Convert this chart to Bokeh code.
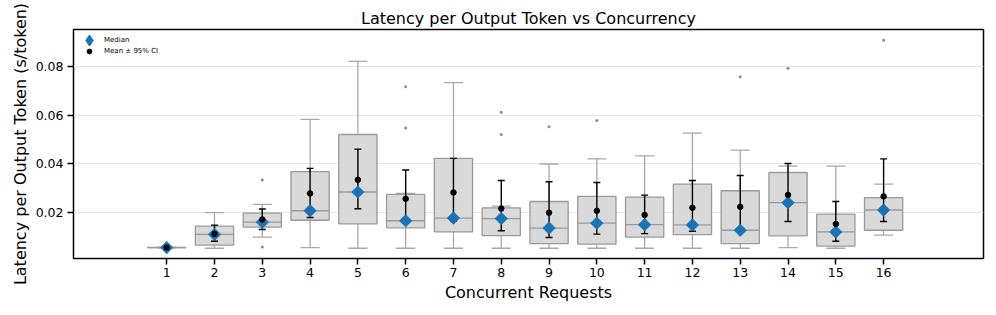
import numpy as np
from bokeh.plotting import figure
from bokeh.models import (ColumnDataSource, Range1d, FixedTicker, Legend, LegendItem)
from bokeh.embed import file_html
from bokeh.resources import INLINE

concurrency = list(range(1, 17))
q1 =      [0.0056, 0.0066, 0.0140, 0.0168, 0.0153, 0.0137, 0.0120, 0.0105, 0.0072, 0.0070, 0.0099, 0.0109, 0.0072, 0.0104, 0.0062, 0.0127]
median =  [0.0056, 0.0110, 0.0160, 0.0207, 0.0284, 0.0166, 0.0177, 0.0175, 0.0136, 0.0156, 0.0150, 0.0149, 0.0127, 0.0240, 0.0120, 0.0210]
q3 =      [0.0057, 0.0144, 0.0197, 0.0368, 0.0520, 0.0274, 0.0422, 0.0219, 0.0245, 0.0266, 0.0263, 0.0316, 0.0289, 0.0364, 0.0193, 0.0261]
whisk_lo = [0.0055, 0.0053, 0.0099, 0.0056, 0.0053, 0.0053, 0.0053, 0.0053, 0.0053, 0.0053, 0.0053, 0.0053, 0.0053, 0.0056, 0.0053, 0.0107]
whisk_hi = [0.0058, 0.0199, 0.0233, 0.0582, 0.0820, 0.0278, 0.0733, 0.0226, 0.0399, 0.0420, 0.0432, 0.0526, 0.0456, 0.0390, 0.0390, 0.0316]
mean =    [0.0056, 0.0112, 0.0171, 0.0278, 0.0334, 0.0256, 0.0282, 0.0216, 0.0199, 0.0207, 0.0190, 0.0219, 0.0223, 0.0272, 0.0153, 0.0266]
ci_lo =   [0.0055, 0.0082, 0.0130, 0.0179, 0.0215, 0.0155, 0.0165, 0.0125, 0.0097, 0.0111, 0.0113, 0.0123, 0.0125, 0.0163, 0.0082, 0.0163]
ci_hi =   [0.0058, 0.0148, 0.0214, 0.0381, 0.0460, 0.0374, 0.0422, 0.0331, 0.0326, 0.0323, 0.0271, 0.0331, 0.0352, 0.0401, 0.0245, 0.0420]
outlier_x = [3, 3, 6, 6, 8, 8, 9, 10, 13, 14, 16]
outlier_y = [0.0333, 0.0058, 0.0716, 0.0547, 0.0611, 0.0520, 0.0552, 0.0577, 0.0757, 0.0792, 0.0907]
y_ticks = [0.02, 0.04, 0.06, 0.08]

BOX_W = 0.8
CAP_W = 0.4
FONT = "DejaVu Sans"
BLUE = "#1874b6"

x = np.array(concurrency, dtype=float)
src = ColumnDataSource(dict(
    x=x, q1=q1, med=median, q3=q3, lo=whisk_lo, hi=whisk_hi,
    mean=mean, ci_lo=ci_lo, ci_hi=ci_hi,
    xl=x - BOX_W / 2, xr=x + BOX_W / 2, cl=x - CAP_W / 2, cr=x + CAP_W / 2,
))

p = figure(width=990, height=307, output_backend="svg", toolbar_location=None,
           x_range=Range1d(-0.95, 18.09), y_range=Range1d(0.0011, 0.0951),
           min_border_left=73, min_border_right=7, min_border_top=29, min_border_bottom=49,
           title="Latency per Output Token vs Concurrency")

p.title.align = "center"
p.title.text_font = FONT
p.title.text_font_size = "16px"
p.title.text_font_style = "normal"
p.title.text_color = "black"
p.title.standoff = 4

p.outline_line_color = "black"
p.outline_line_width = 1.5
p.xgrid.visible = False
p.ygrid.grid_line_color = "#e5e5e5"
p.ygrid.grid_line_width = 1
p.ygrid.ticker = FixedTicker(ticks=y_ticks)

# whiskers
wc = "#a8a8a8"
p.segment("x", "q3", "x", "hi", source=src, line_color=wc, line_width=1.3)
p.segment("x", "q1", "x", "lo", source=src, line_color=wc, line_width=1.3)
p.segment("cl", "hi", "cr", "hi", source=src, line_color=wc, line_width=1.3)
p.segment("cl", "lo", "cr", "lo", source=src, line_color=wc, line_width=1.3)

# boxes
p.quad(left="xl", right="xr", bottom="q1", top="q3", source=src,
       fill_color="#d9d9d9", line_color="#9a9a9a", line_width=1.3)
p.segment("xl", "med", "xr", "med", source=src, line_color="#9a9a9a", line_width=1.3)

# outliers
p.scatter(outlier_x, outlier_y, size=3, color="#8c8c8c", line_width=0)

# mean 95% CI
p.segment("x", "ci_lo", "x", "ci_hi", source=src, line_color="black", line_width=1.4)
p.scatter("x", "ci_lo", source=src, marker="dash", size=7, line_color="black", line_width=1.4)
p.scatter("x", "ci_hi", source=src, marker="dash", size=7, line_color="black", line_width=1.4)

# medians: a diamond renderer (used for the legend) hidden under rotated squares
leg_med = p.scatter("x", "med", source=src, marker="diamond", size=11,
                    fill_color=BLUE, line_color=BLUE)
p.scatter("x", "med", source=src, marker="square", angle=np.pi / 4, size=9,
          fill_color=BLUE, line_color=BLUE, line_width=0.5)
mean_r = p.scatter("x", "mean", source=src, marker="circle", size=5.5,
                   fill_color="black", line_color="black")

# two legends so each item gets its own glyph size (location = bottom-left, px from frame)
leg1 = Legend(items=[LegendItem(label="Median", renderers=[leg_med])], location=(2, 204))
leg1.glyph_height = 28
leg1.glyph_width = 28
leg1.label_height = 28
leg1.label_standoff = 1
leg2 = Legend(items=[LegendItem(label="Mean \u00b1 95% CI", renderers=[mean_r])], location=(10, 201))
leg2.glyph_height = 12
leg2.glyph_width = 12
leg2.label_height = 12
leg2.label_standoff = 9
for lg in (leg1, leg2):
    lg.label_text_font = FONT
    lg.label_text_font_size = "7px"
    lg.label_text_color = "black"
    lg.spacing = 0
    lg.padding = 0
    lg.margin = 0
    lg.border_line_color = None
    lg.background_fill_alpha = 0
    p.add_layout(lg)

# axes
p.xaxis.ticker = FixedTicker(ticks=concurrency)
p.yaxis.ticker = FixedTicker(ticks=y_ticks)
p.yaxis.formatter.use_scientific = False
for ax in (p.xaxis[0], p.yaxis[0]):
    ax.axis_line_color = None
    ax.major_tick_line_color = "black"
    ax.major_tick_line_width = 1.5
    ax.major_tick_out = 6
    ax.major_tick_in = 0
    ax.minor_tick_line_color = None
    ax.major_label_text_font = FONT
    ax.major_label_text_font_size = "12.5px"
    ax.major_label_text_color = "black"
    ax.axis_label_text_font = FONT
    ax.axis_label_text_font_size = "16px"
    ax.axis_label_text_font_style = "normal"
    ax.axis_label_text_color = "black"
p.xaxis.axis_label = "Concurrent Requests"
p.yaxis.axis_label = "Latency per Output Token (s/token)"
p.xaxis.axis_label_standoff = 3
p.yaxis.axis_label_standoff = 3
p.xaxis.major_label_standoff = 3
p.yaxis.major_label_standoff = 4

open("out.html", "w").write(file_html(p, INLINE))
